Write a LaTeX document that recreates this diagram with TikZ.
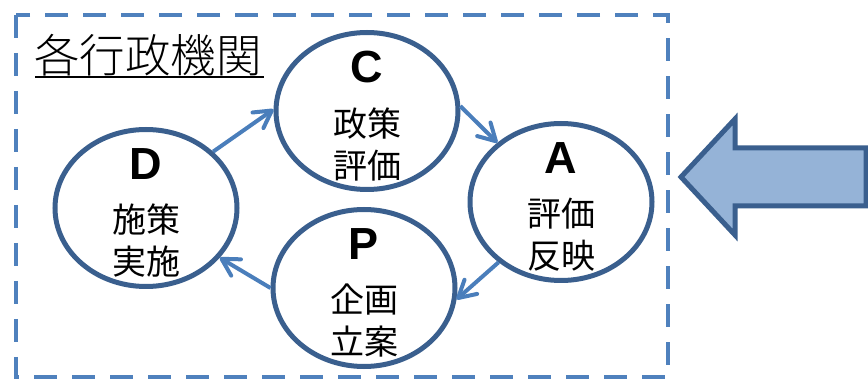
\documentclass[tikz,border=0pt]{standalone}
\usepackage{fontspec}
\setmainfont{Liberation Sans}
\newfontfamily\cjk{Noto Sans CJK JP}
\newfontfamily\cjklight{Noto Sans CJK JP Light}
\usetikzlibrary{shapes.geometric,arrows.meta,calc}
\definecolor{ringblue}{HTML}{3A5F8E}
\definecolor{linkblue}{HTML}{4A7EBB}
\definecolor{dashblue}{HTML}{4F81BD}
\definecolor{fillblue}{HTML}{95B3D7}
\begin{document}
\begin{tikzpicture}[x=1pt,y=-1pt,
 phase/.style={ellipse, draw=ringblue, line width=5pt, minimum width=182pt, minimum height=157pt, inner sep=0pt},
 letter/.style={font=\fontsize{45}{45}\selectfont\bfseries, inner sep=0pt},
 words/.style={font=\cjk\fontsize{34}{42}\selectfont, align=center, inner sep=0pt},
 link/.style={draw=linkblue, line width=4pt, -{Straight Barb[length=17pt,width=19pt,round]}},
 frame/.style={draw=dashblue, line width=4.5pt, dash pattern=on 23pt off 15pt},
 bigarrow/.style={draw=ringblue, fill=fillblue, line width=5pt, line join=miter}
]
\useasboundingbox (0,0) rectangle (868,379);

\draw[frame] (16,15) rectangle (668,377);

\node[font=\cjklight\fontsize{45.5}{45.5}\selectfont, anchor=base west, inner sep=0pt] (title) at (34,73) {各行政機関};
\draw[line width=2pt] ($(title.base west)+(1,4)$) -- ($(title.base east)+(2,4)$);

\node[phase] (C) at (367,111) {};
\node[phase] (A) at (561,202) {};
\node[phase] (D) at (146,208) {};
\node[phase] (P) at (364,288) {};

\node[letter] (Cl) at ($(C)+(0,-44)$) {C};
\node[words] (Ct) at ($(C)+(0,33)$) {政策\\評価};
\node[letter] (Al) at ($(A)+(0,-44)$) {A};
\node[words] (At) at ($(A)+(0,33)$) {評価\\反映};
\node[letter] (Dl) at ($(D)+(0,-44)$) {D};
\node[words] (Dt) at ($(D)+(0,33)$) {施策\\実施};
\node[letter] (Pl) at ($(P)+(0,-44)$) {P};
\node[words] (Pt) at ($(P)+(0,33)$) {企画\\立案};

\draw[link] (D.40) -- (C.179);
\draw[link] (C.3) -- (A.137);
\draw[link] (A.224) -- (P.353);
\draw[link] (P.180) -- (D.326);

\draw[bigarrow] (681,177) -- (735,119) -- (735,148) -- (866,148) -- (866,206) -- (735,206) -- (735,235) -- cycle;
\end{tikzpicture}
\end{document}
